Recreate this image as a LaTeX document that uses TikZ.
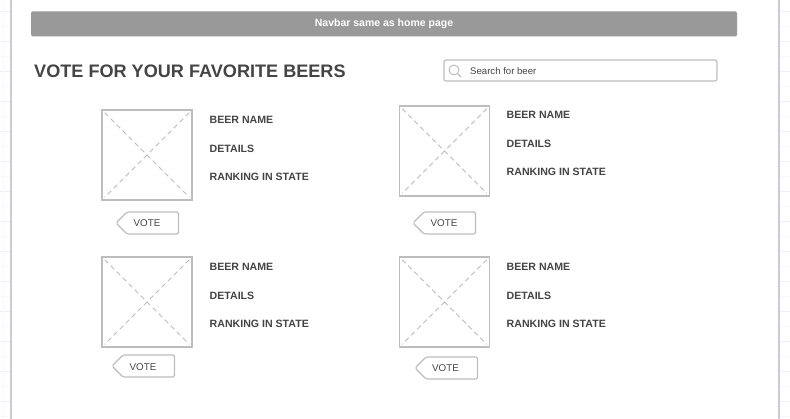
\documentclass[tikz,border=0pt]{standalone}
\usepackage{fontspec}
\setmainfont{Liberation Sans}
\definecolor{wireline}{HTML}{BDBDBD}
\definecolor{wiretext}{HTML}{444444}
\definecolor{navfill}{HTML}{999999}
\definecolor{gridline}{HTML}{EFEEFB}
\definecolor{gridsoft}{HTML}{F8F7FD}
\definecolor{edgeline}{HTML}{CBCAD8}
\begin{document}
\begin{tikzpicture}[
    x=1pt, y=-1pt,
    navbar/.style={rectangle, rounded corners=1.5pt, fill=navfill, draw=none, minimum width=706pt, minimum height=25pt, text=white, font=\fontsize{10.5}{12}\selectfont\bfseries},
    heading/.style={anchor=west, text=wiretext, inner sep=0pt, font=\fontsize{18.1}{22}\selectfont\bfseries},
    searchbox/.style={rectangle, rounded corners=2pt, draw=wireline, line width=1.1pt, minimum width=273pt, minimum height=21pt},
    searchtext/.style={anchor=west, inner sep=0pt, text=wiretext, font=\fontsize{9.6}{11}\selectfont},
    imgbox/.style={rectangle, draw=wireline, line width=1.1pt, fill=white, minimum width=90pt, minimum height=90pt},
    imgcross/.style={draw=wireline, line width=1pt, dash pattern=on 5pt off 3.5pt, shorten >=4.5pt, shorten <=4.5pt},
    info/.style={anchor=west, inner sep=0pt, yshift=-0.6pt, text=wiretext, font=\fontsize{10.6}{12}\selectfont\bfseries},
    votetext/.style={inner sep=0pt, text=wiretext, font=\fontsize{9.8}{11}\selectfont},
    voteline/.style={draw=wireline, line width=1.1pt, rounded corners=1.5pt},
]
\useasboundingbox (0,0) rectangle (790,419);

% Page edges
\foreach \y in {11,41,...,419} {
    \draw[gridline] (0,\y) -- (10,\y);
    \draw[gridline] (780,\y) -- (790,\y);
}
\foreach \y in {26,56,...,419} {
    \draw[gridsoft] (0,\y) -- (10,\y);
    \draw[gridsoft] (780,\y) -- (790,\y);
}
\draw[gridsoft] (3,0) -- (3,419);
\draw[edgeline, line width=1.2pt] (11,0) -- (11,419);
\draw[edgeline, line width=1.2pt] (779,0) -- (779,419);

% Navbar
\node[navbar] (nav) at (384,24) {Navbar same as home page};

% Heading and search
\node[heading] (title) at (34,71) {VOTE FOR YOUR FAVORITE BEERS};
\node[searchbox] (search) at (580.5,70.5) {};
\node[searchtext] (searchlabel) at (470,71) {Search for beer};
\node[circle, draw=wireline, line width=1pt, minimum size=10pt, inner sep=0pt] (lens) at (454,70) {};
\coordinate (lensend) at (461,77);
\draw[wireline, line width=1.3pt] (lens.south east) -- (lensend);

% Beer images
\node[imgbox] (img1) at (147,155) {};
\node[imgbox] (img2) at (444.5,151) {};
\node[imgbox] (img3) at (147,302) {};
\node[imgbox] (img4) at (444.5,302) {};
\foreach \i in {1,2,3,4} {
    \draw[imgcross] (img\i.north west) -- (img\i.south east);
    \draw[imgcross] (img\i.north east) -- (img\i.south west);
}

% Beer details
\node[info] (name1) at (209.5,119) {BEER NAME};
\node[info] (details1) at (209.5,148) {DETAILS};
\node[info] (rank1) at (209.5,176) {RANKING IN STATE};
\node[info] (name2) at (506.5,114) {BEER NAME};
\node[info] (details2) at (506.5,143) {DETAILS};
\node[info] (rank2) at (506.5,171) {RANKING IN STATE};
\node[info] (name3) at (209.5,266) {BEER NAME};
\node[info] (details3) at (209.5,295) {DETAILS};
\node[info] (rank3) at (209.5,323) {RANKING IN STATE};
\node[info] (name4) at (506.5,266) {BEER NAME};
\node[info] (details4) at (506.5,295) {DETAILS};
\node[info] (rank4) at (506.5,323) {RANKING IN STATE};

% Vote tags
\draw[voteline] (116,223) -- (127,212) -- (178.5,212) -- (178.5,234) -- (127,234) -- cycle;
\node[votetext] (vote1) at (147,223) {VOTE};
\draw[voteline] (413,223) -- (424,212) -- (475.5,212) -- (475.5,234) -- (424,234) -- cycle;
\node[votetext] (vote2) at (444,223) {VOTE};
\draw[voteline] (112,366) -- (123,355) -- (174.5,355) -- (174.5,377) -- (123,377) -- cycle;
\node[votetext] (vote3) at (143,367) {VOTE};
\draw[voteline] (415,368) -- (426,357) -- (477.5,357) -- (477.5,379) -- (426,379) -- cycle;
\node[votetext] (vote4) at (445.5,368) {VOTE};
\end{tikzpicture}
\end{document}
